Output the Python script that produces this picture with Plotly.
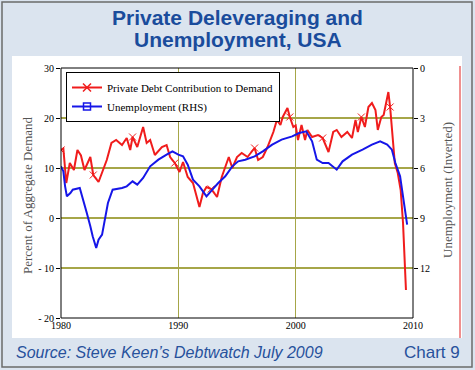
import plotly.graph_objects as go

# Private debt contribution to aggregate demand (% , left axis)
debt_years = [1980.0, 1980.2, 1980.45, 1980.75, 1981.1, 1981.4, 1981.7, 1982.0, 1982.5, 1982.75,
              1983.2, 1983.6, 1983.9, 1984.3, 1984.7, 1985.2, 1985.6, 1985.9, 1986.1, 1986.5,
              1987.0, 1987.3, 1987.6, 1988.0, 1988.6, 1989.0, 1989.3, 1989.7, 1990.1, 1990.4,
              1990.8, 1991.25, 1991.5, 1991.8, 1992.1, 1992.4, 1992.8, 1993.3, 1993.7, 1994.0,
              1994.3, 1994.6, 1995.0, 1995.4, 1995.9, 1996.5, 1996.8, 1997.2, 1997.6, 1998.1,
              1998.4, 1998.7, 1998.9, 1999.3, 1999.5, 1999.8, 2000.0, 2000.2, 2000.5, 2000.8,
              2001.0, 2001.4, 2001.9, 2002.3, 2002.8, 2003.2, 2003.5, 2003.9, 2004.4, 2004.8,
              2005.1, 2005.3, 2005.6, 2005.9, 2006.2, 2006.5, 2006.8, 2007.0, 2007.3, 2007.5,
              2007.9, 2008.05, 2008.2, 2008.45, 2008.7, 2008.95, 2009.15, 2009.3, 2009.4]
debt_values = [13.6, 13.9, 7.0, 11.0, 9.6, 13.6, 12.5, 9.6, 12.2, 8.6,
               7.2, 9.6, 11.6, 15.0, 15.6, 14.6, 16.0, 13.6, 16.2, 14.2,
               18.2, 15.0, 15.6, 12.6, 14.2, 14.6, 12.2, 11.0, 9.2, 11.2,
               8.2, 7.0, 5.0, 2.2, 5.0, 6.2, 5.8, 4.2, 8.2, 10.2,
               12.2, 10.0, 12.2, 13.0, 12.2, 14.0, 11.6, 12.2, 14.2, 17.2,
               19.6, 18.6, 20.2, 22.0, 20.2, 18.2, 18.5, 15.6, 18.6, 15.6,
               17.6, 16.2, 16.6, 16.0, 13.2, 17.2, 17.6, 16.2, 17.2, 16.0,
               19.6, 17.2, 20.2, 18.2, 22.2, 23.0, 21.6, 17.6, 20.2, 20.6,
               25.2, 22.2, 17.6, 11.0, 9.0, 5.6, -1.0, -8.4, -14.4]

# Unemployment rate (%, right axis, inverted)
unemp_years = [1980.0, 1980.2, 1980.35, 1980.5, 1980.8, 1981.0, 1981.6, 1981.9, 1982.2, 1982.5,
               1982.7, 1983.0, 1983.2, 1983.5, 1983.75, 1984.0, 1984.4, 1985.2, 1985.6, 1986.1,
               1986.5, 1987.0, 1987.6, 1988.3, 1989.0, 1989.5, 1990.0, 1990.4, 1990.8, 1991.25,
               1991.8, 1992.4, 1992.9, 1993.4, 1994.0, 1994.6, 1995.1, 1995.7, 1996.5, 1997.2,
               1998.0, 1998.8, 1999.7, 2000.3, 2000.9, 2001.4, 2001.8, 2002.3, 2002.8, 2003.5,
               2004.0, 2004.8, 2005.7, 2006.5, 2007.2, 2007.8, 2008.2, 2008.5, 2008.9, 2009.2,
               2009.5]
unemp_values = [5.9, 6.2, 7.1, 7.7, 7.5, 7.3, 7.2, 7.9, 8.7, 9.5,
                10.1, 10.8, 10.3, 10.0, 9.1, 8.1, 7.3, 7.2, 7.1, 6.8,
                7.0, 6.6, 5.9, 5.5, 5.2, 5.0, 5.2, 5.3, 5.8, 6.7,
                7.1, 7.7, 7.3, 6.9, 6.5, 5.9, 5.6, 5.5, 5.3, 5.0,
                4.6, 4.3, 4.1, 3.9, 3.8, 4.4, 5.5, 5.7, 5.7, 6.1,
                5.6, 5.2, 4.9, 4.6, 4.4, 4.6, 4.9, 5.7, 6.5, 8.1,
                9.4]

left_ticks = [30, 20, 10, 0, -10, -20]
left_ticktext = ["30", "20", "10", "0", "- 10", "- 20"]
right_ticks = [0, 3, 6, 9, 12]
x_ticks = [1980, 1990, 2000, 2010]

RED = "#f01c1c"
BLUE = "#1616e8"
GRID = "#a6a648"
SERIF = "Liberation Serif"

fig = go.Figure()

fig.add_trace(go.Scatter(
    x=unemp_years, y=unemp_values, yaxis="y2", mode="lines",
    line=dict(color=BLUE, width=2), showlegend=False))
fig.add_trace(go.Scatter(
    x=debt_years, y=debt_values, mode="lines+markers",
    line=dict(color=RED, width=2),
    marker=dict(symbol="x-thin-open", size=7, color=RED, line=dict(color=RED, width=1), maxdisplayed=10),
    showlegend=False))

# legend entries
fig.add_trace(go.Scatter(
    x=[None], y=[None], mode="lines+markers", name="Private Debt Contribution to Demand",
    line=dict(color=RED, width=2),
    marker=dict(symbol="x-thin-open", size=8, color=RED, line=dict(color=RED, width=1.5))))
fig.add_trace(go.Scatter(
    x=[None], y=[None], mode="lines+markers", name="Unemployment (RHS)",
    line=dict(color=BLUE, width=2),
    marker=dict(symbol="square-open", size=7, color=BLUE, line=dict(color=BLUE, width=1.5))))

W, H = 475, 370
L, R, T, B = 61, 62, 68, 52
pw, ph = W - L - R, H - T - B


def px(x):
    return (x - L) / pw


def py(y):
    return (H - B - y) / ph


shapes = [
    # outer frame
    dict(type="rect", xref="paper", yref="paper", x0=px(2), x1=px(472), y0=py(367), y1=py(2),
         line=dict(color="#6b6b6b", width=1.5), fillcolor="rgba(0,0,0,0)", layer="below"),
    # white panel
    dict(type="rect", xref="paper", yref="paper", x0=px(12), x1=px(462), y0=py(338), y1=py(56),
         line=dict(width=0), fillcolor="white", layer="below"),
    # red vertical line at right of panel
    dict(type="line", xref="paper", yref="paper", x0=px(460), x1=px(460), y0=py(338), y1=py(66),
         line=dict(color="#e02020", width=1)),
    # plot box
    dict(type="rect", xref="paper", yref="paper", x0=0, x1=1, y0=0, y1=1,
         line=dict(color="black", width=1), fillcolor="rgba(0,0,0,0)"),
]

TITLE_C = "#1a4c9c"
annotations = [
    dict(text="<b>Private Deleveraging and</b>", x=px(237.5), y=py(17), xref="paper", yref="paper",
         showarrow=False, xanchor="center", yanchor="middle",
         font=dict(family="Liberation Sans", size=21, color=TITLE_C)),
    dict(text="<b>Unemployment, USA</b>", x=px(237.5), y=py(39.5), xref="paper", yref="paper",
         showarrow=False, xanchor="center", yanchor="middle",
         font=dict(family="Liberation Sans", size=21, color=TITLE_C)),
    dict(text="<i>Source: Steve Keen’s Debtwatch July 2009</i>", x=px(14), y=py(352),
         xref="paper", yref="paper", showarrow=False, xanchor="left", yanchor="middle",
         font=dict(family="Liberation Sans", size=16, color="#27519c")),
    dict(text="Chart 9", x=px(462), y=py(352), xref="paper", yref="paper", showarrow=False,
         xanchor="right", yanchor="middle",
         font=dict(family="Liberation Sans", size=17, color="#27519c")),
    dict(text="Percent of Aggregate Demand", x=px(27), y=py(195), xref="paper", yref="paper",
         showarrow=False, textangle=-90, xanchor="center", yanchor="middle",
         font=dict(family=SERIF, size=13, color="#555555")),
    dict(text="Unemployment (Inverted)", x=px(447), y=py(190), xref="paper", yref="paper",
         showarrow=False, textangle=-90, xanchor="center", yanchor="middle",
         font=dict(family=SERIF, size=13, color="#555555")),
]

fig.update_layout(
    width=W, height=H,
    margin=dict(l=L, r=R, t=T, b=B),
    paper_bgcolor="#dbe4ef",
    plot_bgcolor="white",
    shapes=shapes,
    annotations=annotations,
    showlegend=True,
    legend=dict(x=px(66), y=py(72), xanchor="left", yanchor="top",
                bgcolor="white", bordercolor="black", borderwidth=1,
                font=dict(family=SERIF, size=11, color="black"),
                tracegroupgap=0, itemwidth=30),
    xaxis=dict(range=[1980, 2010], tickvals=x_ticks, ticktext=[str(v) for v in x_ticks],
               showgrid=True, gridcolor=GRID, gridwidth=1, zeroline=False,
               showline=False, ticks="", tickfont=dict(family=SERIF, size=10, color="black")),
    yaxis=dict(range=[-20, 30], tickvals=left_ticks, ticktext=left_ticktext,
               showgrid=True, gridcolor=GRID, gridwidth=1.5, zeroline=False,
               showline=False, ticks="outside", ticklen=4, tickcolor="black",
               tickfont=dict(family=SERIF, size=10, color="black")),
    yaxis2=dict(range=[15, 0], overlaying="y", side="right", tickvals=right_ticks,
                showgrid=False, zeroline=False, showline=False, ticks="outside", ticklen=4,
                tickcolor="black", tickfont=dict(family=SERIF, size=10, color="black")),
)

fig.write_html("out.html", config={"displayModeBar": False},
               post_script="document.body.style.margin='0';document.body.style.padding='0';"
                           "document.body.style.overflow='hidden';")
